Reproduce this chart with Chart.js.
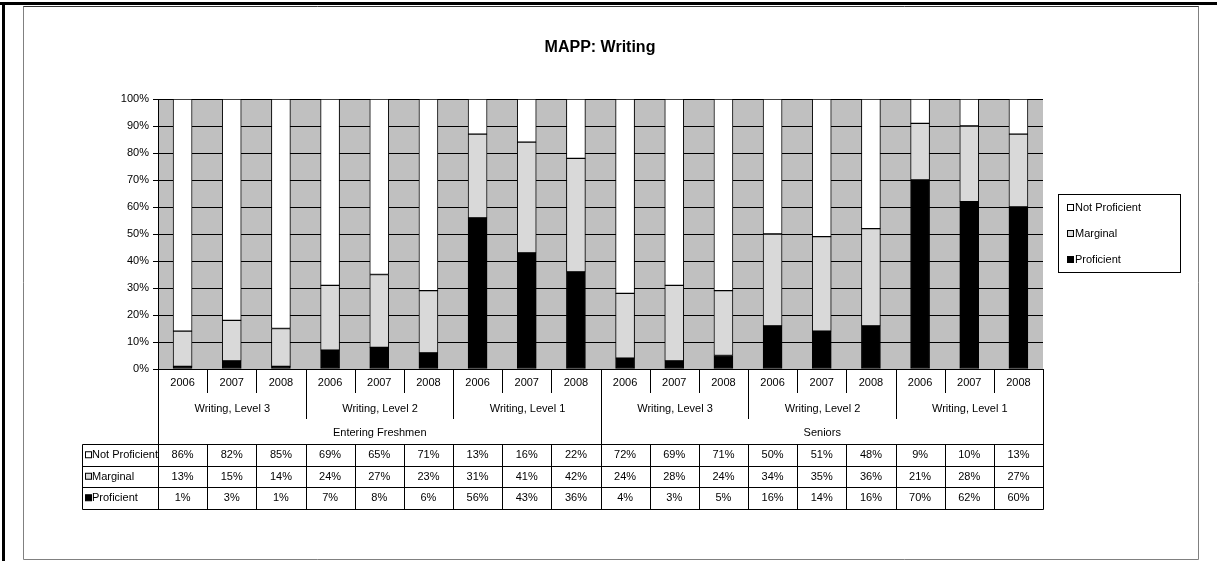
<!DOCTYPE html>
<html><head><meta charset="utf-8">
<script src="https://cdn.jsdelivr.net/npm/chart.js@4.4.0/dist/chart.umd.min.js"></script>
<style>html,body{margin:0;padding:0;background:#fff;}canvas{display:block;}</style>
</head><body>
<canvas id="c" width="1217" height="561"></canvas>
<script>
const years = ['2006','2007','2008'];
const levels = ['Writing, Level 3','Writing, Level 2','Writing, Level 1'];
const cohorts = ['Entering Freshmen','Seniors'];
const seriesNames = ['Not Proficient','Marginal','Proficient'];
const notProficient = [86,82,85,69,65,71,13,16,22,72,69,71,50,51,48,9,10,13];
const marginal      = [13,15,14,24,27,23,31,41,42,24,28,24,34,35,36,21,28,27];
const proficient    = [1,3,1,7,8,6,56,43,36,4,3,5,16,14,16,70,62,60];
const yTicks = [0,10,20,30,40,50,60,70,80,90,100];

const categories = [];
cohorts.forEach(c => levels.forEach(l => years.forEach(y => categories.push(y))));

const FONT = '"Liberation Sans Narrow","Arial Narrow","Liberation Sans",Arial,sans-serif';
const colors = {np:'#FFFFFF', m:'#D9D9D9', p:'#000000'};

const overlay = {
  id:'overlay',
  beforeDraw(chart){
    const {ctx, chartArea:a} = chart;
    ctx.save();
    ctx.fillStyle='#C0C0C0';
    ctx.fillRect(a.left, a.top, a.right-a.left, a.bottom-a.top);
    ctx.restore();
  },
  afterDraw(chart){
    const {ctx, chartArea:a} = chart;
    const xs = chart.scales.x;
    const n = categories.length;
    const edge = i => {
      if (i<=0) return a.left;
      if (i>=n) return a.right;
      return Math.round((xs.getPixelForValue(i-1)+xs.getPixelForValue(i))/2)+0.5;
    };
    ctx.save();
    // frames
    ctx.fillStyle='#000';
    ctx.fillRect(0,2,1217,3);
    ctx.fillRect(2,2,3,559);
    ctx.strokeStyle='#808080'; ctx.lineWidth=1;
    ctx.beginPath();
    ctx.moveTo(23.5,6); ctx.lineTo(23.5,559.5); ctx.lineTo(1198.5,559.5); ctx.lineTo(1198.5,6);
    ctx.stroke();
    ctx.strokeStyle='#333';
    ctx.beginPath(); ctx.moveTo(23.5,6.5); ctx.lineTo(1198.5,6.5); ctx.stroke();

    // title
    ctx.fillStyle='#000';
    ctx.font='bold 16px '+FONT;
    ctx.textAlign='center'; ctx.textBaseline='middle';
    ctx.fillText('MAPP: Writing', 600, 48);

    // category axis
    const yRow = [a.bottom, 393, 419, 444];
    const tableTop = 444, rowH = 21.5;
    const tableBottom = tableTop + rowH*3;
    ctx.strokeStyle='#000'; ctx.lineWidth=1;
    for (let i=0;i<=n;i++){
      const x = (i===0)? Math.round(a.left)+0.5 : (i===n? Math.round(a.right)+0.5 : edge(i));
      let yEnd;
      if (i===0 || i===n || i===9) yEnd = tableTop;
      else if (i%3===0) yEnd = 419;
      else yEnd = 393;
      ctx.beginPath(); ctx.moveTo(x, a.bottom); ctx.lineTo(x, yEnd); ctx.stroke();
    }
    ctx.font='11px '+FONT;
    ctx.textAlign='center'; ctx.textBaseline='middle';
    for (let i=0;i<n;i++){
      ctx.fillText(categories[i], xs.getPixelForValue(i), 383);
    }
    let g=0;
    cohorts.forEach((c,ci)=>{
      levels.forEach((l,li)=>{
        const s = g*3;
        ctx.fillText(l, (edge(s)+edge(s+3))/2, 409);
        g++;
      });
      ctx.fillText(c, (edge(ci*9)+edge(ci*9+9))/2, 433);
    });

    // data table
    const tLeft = 82.5;
    const rows = [notProficient, marginal, proficient];
    const fills = [colors.np, colors.m, colors.p];
    ctx.beginPath();
    for (let r=0;r<=3;r++){
      const y = Math.round(tableTop + r*rowH)+0.5;
      ctx.moveTo(tLeft, y); ctx.lineTo(Math.round(a.right)+0.5, y);
    }
    ctx.moveTo(tLeft, tableTop+0.5); ctx.lineTo(tLeft, Math.round(tableBottom)+0.5);
    for (let i=0;i<=n;i++){
      const x = (i===0)? Math.round(a.left)+0.5 : (i===n? Math.round(a.right)+0.5 : edge(i));
      ctx.moveTo(x, tableTop); ctx.lineTo(x, Math.round(tableBottom)+0.5);
    }
    ctx.stroke();
    for (let r=0;r<3;r++){
      const yc = tableTop + r*rowH + rowH/2 + 0.5;
      ctx.fillStyle=fills[r]; ctx.strokeStyle='#000';
      ctx.fillRect(85.5, yc-3.5, 6, 6);
      ctx.strokeRect(85.5, yc-3.5, 6, 6);
      ctx.fillStyle='#000';
      ctx.textAlign='left';
      ctx.fillText(seriesNames[r], 92, yc);
      ctx.textAlign='center';
      rows[r].forEach((v,i)=> ctx.fillText(v+'%', xs.getPixelForValue(i), yc));
    }

    // legend
    ctx.strokeStyle='#000';
    ctx.strokeRect(1058.5, 194.5, 122, 78);
    const ly = [208, 234, 260];
    for (let r=0;r<3;r++){
      ctx.fillStyle=fills[r];
      ctx.fillRect(1067.5, ly[r]-3.5, 6, 6);
      ctx.strokeRect(1067.5, ly[r]-3.5, 6, 6);
      ctx.fillStyle='#000'; ctx.textAlign='left';
      ctx.fillText(seriesNames[r], 1075, ly[r]);
    }
    ctx.restore();
  }
};

new Chart(document.getElementById('c'), {
  type:'bar',
  data:{
    labels: categories,
    datasets:[
      {label:seriesNames[2], data:proficient, backgroundColor:colors.p, borderColor:'#000', borderWidth:1, borderSkipped:false},
      {label:seriesNames[1], data:marginal, backgroundColor:colors.m, borderColor:'#000', borderWidth:1, borderSkipped:false},
      {label:seriesNames[0], data:notProficient, backgroundColor:colors.np, borderColor:'#000', borderWidth:1, borderSkipped:false}
    ]
  },
  options:{
    responsive:false, animation:false,
    layout:{padding:{left:98, right:174, top:99, bottom:192}},
    plugins:{legend:{display:false}, title:{display:false}, tooltip:{enabled:false}},
    datasets:{bar:{barThickness:19}},
    scales:{
      x:{stacked:true, display:false, offset:true},
      y:{stacked:true, min:0, max:100,
         afterFit(s){ s.width = 60; },
         afterBuildTicks(s){ s.ticks = yTicks.map(v=>({value:v})); },
         ticks:{callback:v=>v+'%', color:'#000', font:{family:FONT, size:11}, padding:4},
         grid:{color:'#000', lineWidth:1, drawTicks:true, tickLength:5, tickColor:'#000'},
         border:{display:true, color:'#000'}
      }
    }
  },
  plugins:[overlay]
});
</script>
</body></html>
